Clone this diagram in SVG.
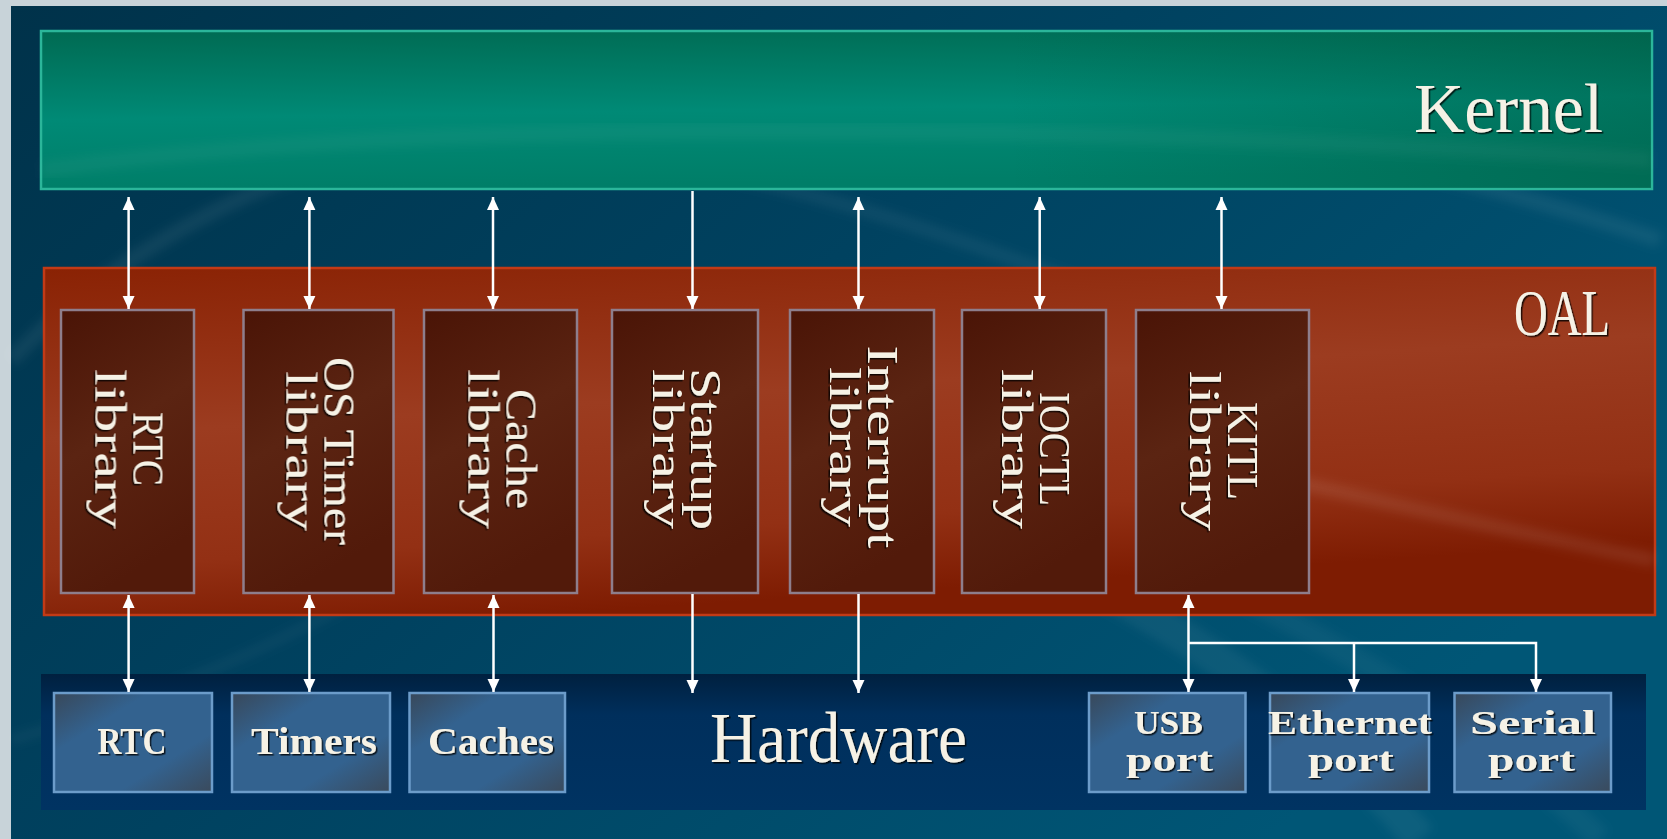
<svg xmlns="http://www.w3.org/2000/svg" width="1667" height="839" viewBox="0 0 1667 839">
<defs>
  <linearGradient id="bg" x1="0" y1="0" x2="1" y2="0.6">
    <stop offset="0" stop-color="#00324a"/>
    <stop offset="0.5" stop-color="#004260"/>
    <stop offset="1" stop-color="#005676"/>
  </linearGradient>
  <linearGradient id="kern" x1="0" y1="0" x2="0.15" y2="1">
    <stop offset="0" stop-color="#006a52"/>
    <stop offset="0.55" stop-color="#008a76"/>
    <stop offset="1" stop-color="#007e68"/>
  </linearGradient>
  <linearGradient id="kernR" x1="0" y1="0" x2="1" y2="0">
    <stop offset="0.6" stop-color="#004a30" stop-opacity="0"/>
    <stop offset="1" stop-color="#004a30" stop-opacity="0.35"/>
  </linearGradient>
  <linearGradient id="oal" x1="0" y1="0" x2="0.3" y2="1">
    <stop offset="0" stop-color="#8a2204"/>
    <stop offset="0.45" stop-color="#9c3c20"/>
    <stop offset="0.8" stop-color="#933014"/>
    <stop offset="1" stop-color="#7e1c02"/>
  </linearGradient>
  <linearGradient id="lib" x1="0" y1="0" x2="0.3" y2="1">
    <stop offset="0" stop-color="#4a1406"/>
    <stop offset="0.5" stop-color="#5b2412"/>
    <stop offset="1" stop-color="#521a0a"/>
  </linearGradient>
  <linearGradient id="hw" x1="0" y1="0" x2="0" y2="1">
    <stop offset="0" stop-color="#00203f"/>
    <stop offset="0.3" stop-color="#002f5c"/>
    <stop offset="1" stop-color="#003362"/>
  </linearGradient>
  <linearGradient id="hwbox" x1="0" y1="0" x2="1" y2="1">
    <stop offset="0" stop-color="#38485a"/>
    <stop offset="0.3" stop-color="#33628f"/>
    <stop offset="0.7" stop-color="#33628f"/>
    <stop offset="1" stop-color="#3a4a5c"/>
  </linearGradient>
  <filter id="sh" x="-10%" y="-10%" width="120%" height="120%">
    <feDropShadow dx="1.5" dy="1.5" stdDeviation="0.6" flood-color="#000" flood-opacity="0.8"/>
  </filter>
  <filter id="blur" x="-10%" y="-20%" width="120%" height="140%">
    <feGaussianBlur stdDeviation="5"/>
  </filter>
  <marker id="ah" markerUnits="userSpaceOnUse" markerWidth="14" markerHeight="14" viewBox="0 0 14 14" refX="13" refY="7" orient="auto-start-reverse">
    <path d="M0,1 L13,7 L0,13 Z" fill="#ffffff"/>
  </marker>
  <style>
    .lbl { font-family: "Liberation Serif", "DejaVu Serif", serif; fill: #f6f2e6; filter: url(#sh); }
    .big { font-size: 69px; }
    .libt { font-size: 45px; text-anchor: middle; }
    .hwt { font-size: 38px; font-weight: bold; text-anchor: middle; }
    .hwt2 { font-size: 33px; font-weight: bold; text-anchor: middle; }
    .libbox { fill: url(#lib); stroke: #8e7e8c; stroke-width: 2.5; }
    .hwb { fill: url(#hwbox); stroke: #6c9cca; stroke-width: 2.5; }
    .arr { stroke: #ffffff; stroke-width: 2.5; fill: none; }
    .swoosh { fill: none; stroke: #ffffff; filter: url(#blur); }
  </style>
</defs>

<rect x="0" y="0" width="1667" height="839" fill="#c8d3d9"/>
<rect x="11" y="6" width="1656" height="833" fill="url(#bg)"/>
<g id="background-swooshes">
  <path class="swoosh" d="M11,360 C300,60 900,-10 1660,240" stroke-width="16" stroke-opacity="0.06"/>
  <path class="swoosh" d="M600,150 C800,180 1000,250 1200,330" stroke-width="14" stroke-opacity="0.05"/>
  <path class="swoosh" d="M1050,560 C1200,640 1320,720 1420,839" stroke-width="34" stroke-opacity="0.05"/>
  <path class="swoosh" d="M1250,600 C1380,670 1500,740 1600,839" stroke-width="24" stroke-opacity="0.04"/>
  <path class="swoosh" d="M11,740 C150,700 300,640 420,560" stroke-width="10" stroke-opacity="0.04"/>
</g>

<g id="kernel">
  <rect x="41" y="31" width="1611" height="158" fill="url(#kern)" stroke="#2bb69a" stroke-width="2.5"/>
  <rect x="42" y="32" width="1609" height="156" fill="url(#kernR)"/>
  <path class="swoosh" d="M42,170 C400,120 1000,120 1651,160" stroke-opacity="0.04" stroke-width="16"/>
  <text class="lbl big" x="1414" y="132" textLength="189" lengthAdjust="spacingAndGlyphs">Kernel</text>
</g>

<g id="oal">
  <rect x="44" y="268" width="1611" height="347" fill="url(#oal)" stroke="#c23a16" stroke-width="2.5"/>
  <path class="swoosh" d="M1240,470 C1380,500 1500,530 1654,560" stroke="#ffb08a" stroke-opacity="0.08" stroke-width="14"/>
  <text class="lbl" x="1514" y="335" font-size="65" textLength="96" lengthAdjust="spacingAndGlyphs">OAL</text>
</g>

<g id="hardware">
  <rect x="41" y="674" width="1605" height="136" fill="url(#hw)"/>
  <text class="lbl" x="710" y="762" font-size="71" textLength="257" lengthAdjust="spacingAndGlyphs">Hardware</text>
</g>

<g id="rtc-library">
  <rect class="libbox" x="61" y="310" width="133" height="283"/>
  <g transform="translate(127.5,449) rotate(90)">
    <text class="lbl libt" x="0" y="-6" textLength="74" lengthAdjust="spacingAndGlyphs">RTC</text>
    <text class="lbl libt" x="0" y="32" textLength="160" lengthAdjust="spacingAndGlyphs">library</text>
  </g>
</g>
<g id="ostimer-library">
  <rect class="libbox" x="243.5" y="310" width="150" height="283"/>
  <g transform="translate(318.5,451) rotate(90)">
    <text class="lbl libt" x="0" y="-6" textLength="188" lengthAdjust="spacingAndGlyphs">OS Timer</text>
    <text class="lbl libt" x="0" y="32" textLength="160" lengthAdjust="spacingAndGlyphs">library</text>
  </g>
</g>
<g id="cache-library">
  <rect class="libbox" x="424" y="310" width="153" height="283"/>
  <g transform="translate(500.5,449) rotate(90)">
    <text class="lbl libt" x="0" y="-6" textLength="120" lengthAdjust="spacingAndGlyphs">Cache</text>
    <text class="lbl libt" x="0" y="32" textLength="160" lengthAdjust="spacingAndGlyphs">library</text>
  </g>
</g>
<g id="startup-library">
  <rect class="libbox" x="612" y="310" width="146" height="283"/>
  <g transform="translate(685,449) rotate(90)">
    <text class="lbl libt" x="0" y="-6" textLength="162" lengthAdjust="spacingAndGlyphs">Startup</text>
    <text class="lbl libt" x="0" y="32" textLength="160" lengthAdjust="spacingAndGlyphs">library</text>
  </g>
</g>
<g id="interrupt-library">
  <rect class="libbox" x="790" y="310" width="144" height="283"/>
  <g transform="translate(862,447) rotate(90)">
    <text class="lbl libt" x="0" y="-6" textLength="203" lengthAdjust="spacingAndGlyphs">Interrupt</text>
    <text class="lbl libt" x="0" y="32" textLength="160" lengthAdjust="spacingAndGlyphs">library</text>
  </g>
</g>
<g id="ioctl-library">
  <rect class="libbox" x="962" y="310" width="144" height="283"/>
  <g transform="translate(1034,449) rotate(90)">
    <text class="lbl libt" x="0" y="-6" textLength="114" lengthAdjust="spacingAndGlyphs">IOCTL</text>
    <text class="lbl libt" x="0" y="32" textLength="160" lengthAdjust="spacingAndGlyphs">library</text>
  </g>
</g>
<g id="kitl-library">
  <rect class="libbox" x="1136" y="310" width="173" height="283"/>
  <g transform="translate(1222,451) rotate(90)">
    <text class="lbl libt" x="0" y="-6" textLength="98" lengthAdjust="spacingAndGlyphs">KITL</text>
    <text class="lbl libt" x="0" y="32" textLength="160" lengthAdjust="spacingAndGlyphs">library</text>
  </g>
</g>

<g id="hw-rtc">
  <rect class="hwb" x="54" y="693" width="158" height="99"/>
  <text class="lbl hwt" x="132" y="754" textLength="69" lengthAdjust="spacingAndGlyphs">RTC</text>
</g>
<g id="hw-timers">
  <rect class="hwb" x="232" y="693" width="158" height="99"/>
  <text class="lbl hwt" x="314" y="754" textLength="126" lengthAdjust="spacingAndGlyphs">Timers</text>
</g>
<g id="hw-caches">
  <rect class="hwb" x="409.5" y="693" width="155.5" height="99"/>
  <text class="lbl hwt" x="491" y="754" textLength="126" lengthAdjust="spacingAndGlyphs">Caches</text>
</g>
<g id="hw-usb">
  <rect class="hwb" x="1089" y="693" width="156.5" height="99"/>
  <text class="lbl hwt2" x="1168.5" y="734" textLength="69" lengthAdjust="spacingAndGlyphs">USB</text>
  <text class="lbl hwt2" x="1169.5" y="771" textLength="87" lengthAdjust="spacingAndGlyphs">port</text>
</g>
<g id="hw-ethernet">
  <rect class="hwb" x="1270" y="693" width="159" height="99"/>
  <text class="lbl hwt2" x="1350" y="734" textLength="164" lengthAdjust="spacingAndGlyphs">Ethernet</text>
  <text class="lbl hwt2" x="1351" y="771" textLength="86" lengthAdjust="spacingAndGlyphs">port</text>
</g>
<g id="hw-serial">
  <rect class="hwb" x="1454.5" y="693" width="156.5" height="99"/>
  <text class="lbl hwt2" x="1533" y="734" textLength="126" lengthAdjust="spacingAndGlyphs">Serial</text>
  <text class="lbl hwt2" x="1531.5" y="771" textLength="87" lengthAdjust="spacingAndGlyphs">port</text>
</g>

<g id="connectors">
  <line class="arr" x1="128.6" y1="197" x2="128.6" y2="309" marker-start="url(#ah)" marker-end="url(#ah)"/>
  <line class="arr" x1="309.4" y1="197" x2="309.4" y2="309" marker-start="url(#ah)" marker-end="url(#ah)"/>
  <line class="arr" x1="493" y1="197" x2="493" y2="309" marker-start="url(#ah)" marker-end="url(#ah)"/>
  <line class="arr" x1="692.5" y1="191" x2="692.5" y2="309" marker-end="url(#ah)"/>
  <line class="arr" x1="858.5" y1="197" x2="858.5" y2="309" marker-start="url(#ah)" marker-end="url(#ah)"/>
  <line class="arr" x1="1039.7" y1="197" x2="1039.7" y2="309" marker-start="url(#ah)" marker-end="url(#ah)"/>
  <line class="arr" x1="1221.5" y1="197" x2="1221.5" y2="309" marker-start="url(#ah)" marker-end="url(#ah)"/>

  <line class="arr" x1="128.6" y1="595" x2="128.6" y2="692" marker-start="url(#ah)" marker-end="url(#ah)"/>
  <line class="arr" x1="309.4" y1="595" x2="309.4" y2="692" marker-start="url(#ah)" marker-end="url(#ah)"/>
  <line class="arr" x1="493.5" y1="595" x2="493.5" y2="692" marker-start="url(#ah)" marker-end="url(#ah)"/>
  <line class="arr" x1="692.5" y1="594" x2="692.5" y2="693" marker-end="url(#ah)"/>
  <line class="arr" x1="858.5" y1="594" x2="858.5" y2="693" marker-end="url(#ah)"/>
  <line class="arr" x1="1188.5" y1="595" x2="1188.5" y2="692" marker-start="url(#ah)" marker-end="url(#ah)"/>
  <path class="arr" d="M1188.5,643 H1536 V692" marker-end="url(#ah)"/>
  <path class="arr" d="M1354,643 V692" marker-end="url(#ah)"/>
</g>
</svg>
